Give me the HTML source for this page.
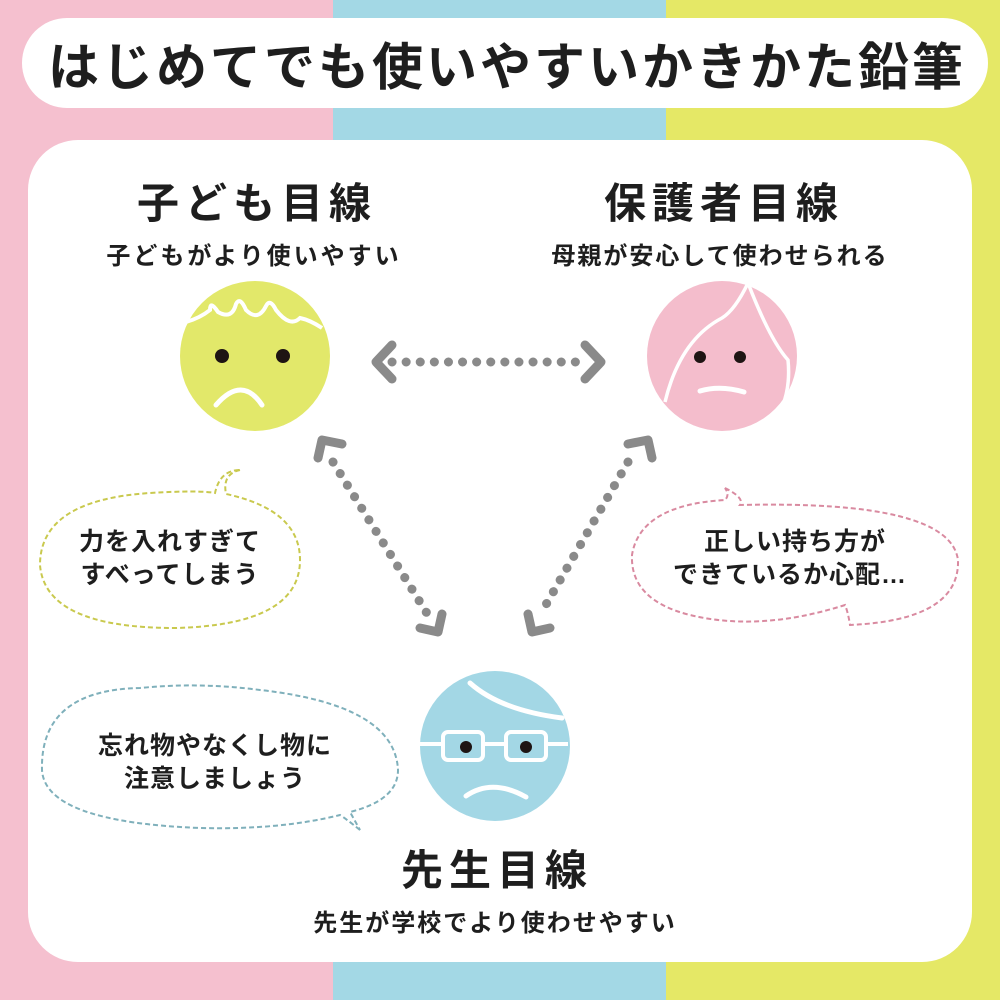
<!DOCTYPE html>
<html><head><meta charset="utf-8"><style>
body{margin:0;width:1000px;height:1000px;overflow:hidden}
svg text{font-family:"Liberation Sans","Noto Sans CJK JP",sans-serif;font-weight:bold;fill:#1e1e1e}
</style></head><body>
<svg width="1000" height="1000" viewBox="0 0 1000 1000" xmlns="http://www.w3.org/2000/svg">
<rect x="0" y="0" width="334" height="1000" fill="#f5c0cf"/>
<rect x="333" y="0" width="334" height="1000" fill="#a3d8e5"/>
<rect x="666" y="0" width="334" height="1000" fill="#e5e866"/>
<rect x="22" y="18" width="966" height="90" rx="45" fill="#fff"/>
<text x="507" y="85" font-size="51" text-anchor="middle" letter-spacing="3">はじめてでも使いやすいかきかた鉛筆</text>
<rect x="28" y="140" width="944" height="822" rx="50" fill="#fff"/>

<text x="257" y="218" font-size="42" text-anchor="middle" letter-spacing="6">子ども目線</text>
<text x="254" y="264" font-size="24" text-anchor="middle" letter-spacing="3">子どもがより使いやすい</text>
<text x="724" y="218" font-size="42" text-anchor="middle" letter-spacing="6">保護者目線</text>
<text x="720" y="264" font-size="24" text-anchor="middle" letter-spacing="2">母親が安心して使わせられる</text>
<text x="497" y="885" font-size="42" text-anchor="middle" letter-spacing="6">先生目線</text>
<text x="495" y="931" font-size="24" text-anchor="middle" letter-spacing="2">先生が学校でより使わせやすい</text>

<circle cx="255" cy="356" r="75" fill="#e2e86a"/>
<path d="M186 322 Q200 318 210 310 Q210 300 218 312 Q232 320 236 304 Q240 296 246 310 Q258 322 266 306 Q270 298 276 310 Q290 328 300 318 Q310 320 322 328" fill="none" stroke="#fff" stroke-width="4"/>
<circle cx="222" cy="356" r="7" fill="#1e1413"/><circle cx="283" cy="356" r="7" fill="#1e1413"/>
<path d="M216 405 Q242 375 262 405" fill="none" stroke="#fff" stroke-width="5" stroke-linecap="round"/>

<circle cx="722" cy="356" r="75" fill="#f4bdcc"/>
<path d="M748 283 Q735 310 722 318 Q680 340 665 402 M748 283 Q770 340 788 360 Q792 400 770 428" fill="none" stroke="#fff" stroke-width="3.5"/>
<circle cx="700" cy="357" r="6" fill="#1e1413"/><circle cx="740" cy="357" r="6" fill="#1e1413"/>
<path d="M700 391 Q720 385 744 392" fill="none" stroke="#fff" stroke-width="5" stroke-linecap="round"/>

<circle cx="495" cy="746" r="75" fill="#a3d7e5"/>
<path d="M470 683 Q500 710 562 718" fill="none" stroke="#fff" stroke-width="5" stroke-linecap="round"/>
<rect x="443" y="732" width="40" height="28" rx="5" fill="none" stroke="#fff" stroke-width="4"/>
<rect x="506" y="732" width="40" height="28" rx="5" fill="none" stroke="#fff" stroke-width="4"/>
<path d="M420 744 H443 M483 744 H506 M546 744 H568" stroke="#fff" stroke-width="4"/>
<circle cx="466" cy="747" r="6" fill="#1e1413"/><circle cx="526" cy="747" r="6" fill="#1e1413"/>
<path d="M466 796 Q492 778 526 797" fill="none" stroke="#fff" stroke-width="5" stroke-linecap="round"/>

<g stroke="#8a8a8a" fill="none" stroke-linecap="round" stroke-linejoin="round">
<line x1="392" y1="362" x2="580" y2="362" stroke-width="9" stroke-dasharray="0.1 14"/>
<path d="M392 345 L376 362 L392 379 M585 345 L601 362 L585 379" stroke-width="9"/>
<line x1="333" y1="462" x2="428" y2="615" stroke-width="9" stroke-dasharray="0.1 13.5"/>
<path d="M318 458 L322 440 L342 444 M420 628 L438 632 L442 614" stroke-width="9"/>
<line x1="628" y1="462" x2="540" y2="615" stroke-width="9" stroke-dasharray="0.1 13.5"/>
<path d="M628 444 L648 440 L652 458 M528 614 L532 632 L550 628" stroke-width="9"/>
</g>

<path d="M240 470 Q222 474 226 494 Q300 510 300 560 Q300 625 175 628 Q45 628 40 565 Q40 500 150 493 Q200 490 215 493 Q220 470 240 470 Z" fill="#fff" stroke="#c9c94e" stroke-width="2" stroke-dasharray="5 3"/>
<text x="170" y="550" font-size="25" text-anchor="middle" letter-spacing="1">力を入れすぎて</text>
<text x="170" y="583" font-size="25" text-anchor="middle" letter-spacing="1">すべってしまう</text>

<path d="M725 488 Q745 498 740 505 Q950 500 958 560 Q960 620 850 625 Q848 612 845 605 Q760 632 690 615 Q630 600 632 555 Q640 505 725 500 Q730 495 725 488 Z" fill="#fff" stroke="#d98aa0" stroke-width="2" stroke-dasharray="5 3"/>
<text x="795" y="550" font-size="25" text-anchor="middle" letter-spacing="1">正しい持ち方が</text>
<text x="790" y="583" font-size="25" text-anchor="middle" letter-spacing="1">できているか心配…</text>

<path d="M360 830 Q345 818 340 815 Q280 830 200 828 Q45 822 42 770 Q40 690 140 688 Q200 682 260 690 Q395 705 398 770 Q398 800 350 812 Z" fill="#fff" stroke="#7fb0bb" stroke-width="2" stroke-dasharray="5 3"/>
<text x="215" y="754" font-size="25" text-anchor="middle" letter-spacing="1">忘れ物やなくし物に</text>
<text x="215" y="787" font-size="25" text-anchor="middle" letter-spacing="1">注意しましょう</text>
</svg>
</body></html>
